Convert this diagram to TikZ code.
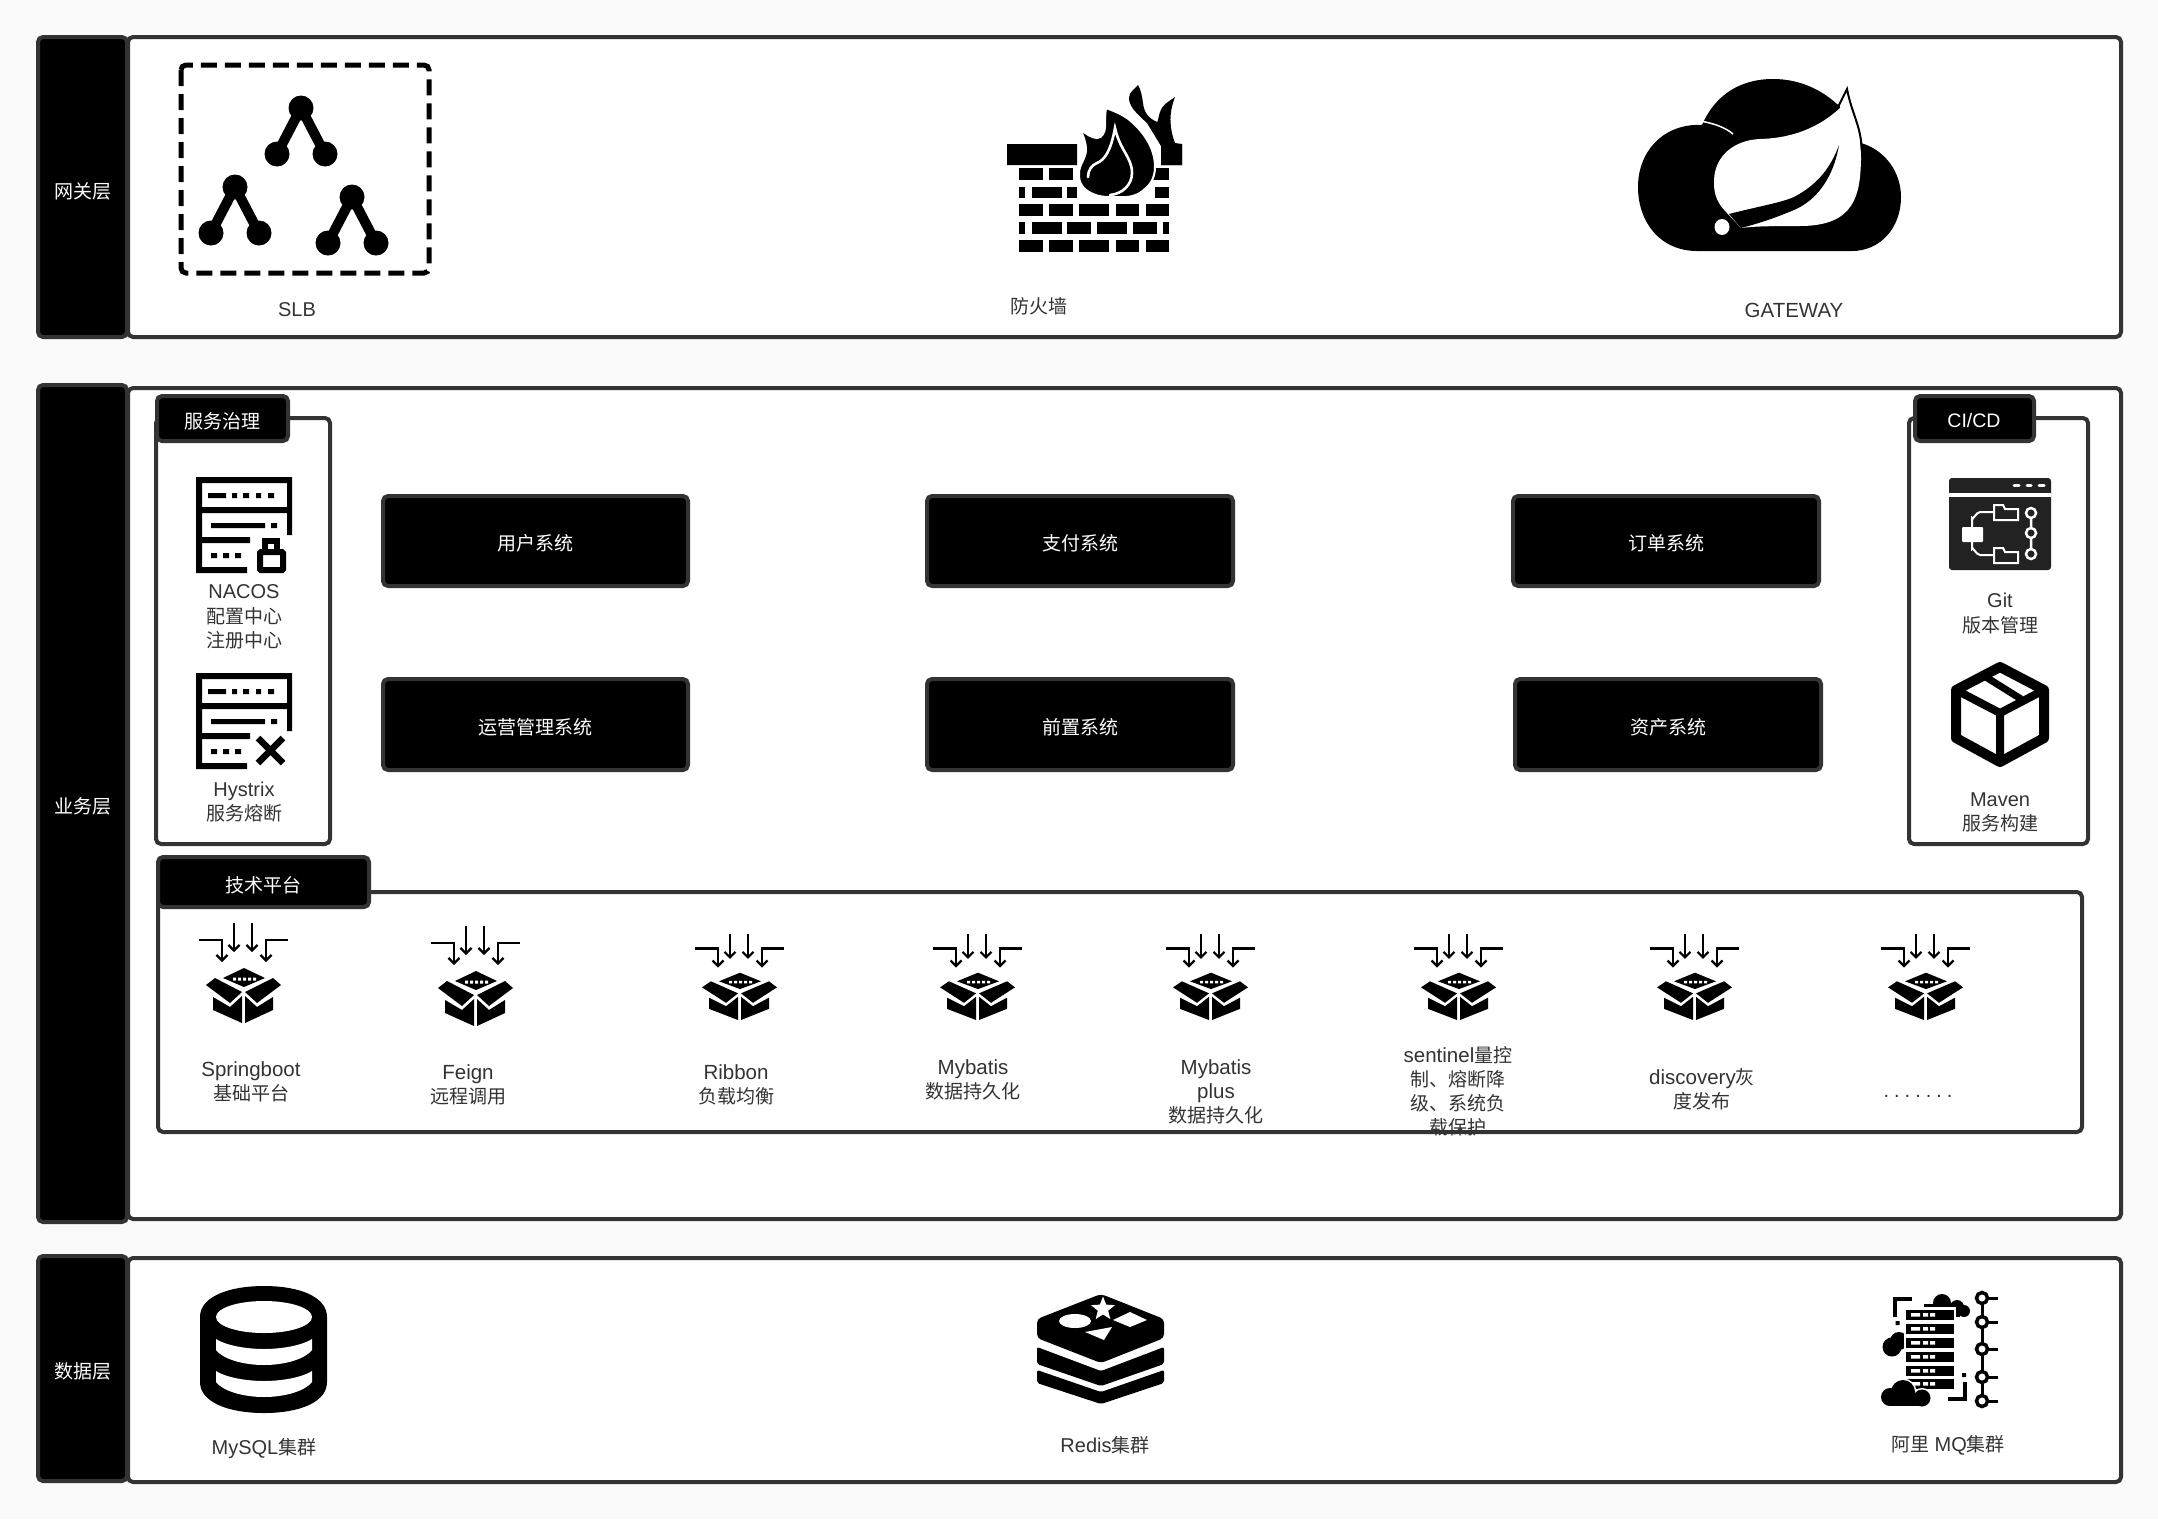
\documentclass[tikz,border=0pt]{standalone}
\usepackage{fontspec}
\setmainfont{Liberation Sans}
\newfontfamily\cjk{Noto Sans CJK SC}
\newcommand{\zh}[1]{{\fontsize{19}{24.5}\selectfont\cjk #1}}
\usetikzlibrary{fit,arrows.meta,shapes.geometric}
\definecolor{edgegray}{HTML}{333333}
\definecolor{labelgray}{HTML}{333333}
\definecolor{pagebg}{HTML}{FAFAFA}
\definecolor{gitdark}{HTML}{222222}
\tikzset{
  panel/.style={draw=edgegray,fill=white,line width=4pt,rounded corners=5pt,inner sep=0pt},
  blackbox/.style={draw=edgegray,fill=black,line width=4pt,rounded corners=5pt,inner sep=0pt},
  whitelbl/.style={text=white,align=center,inner sep=0pt,font=\fontsize{19.5}{24}\selectfont},
  lbl/.style={text=labelgray,align=center,inner sep=0pt,font=\fontsize{20}{24.5}\selectfont},
  techlbl/.style={text=labelgray,align=center,inner sep=0pt,font=\fontsize{20.5}{24}\selectfont},
  inarrow/.style={line width=2.6pt,-{Straight Barb[length=5.5pt,width=11pt,line width=2.2pt]}},
}
\newcommand{\slbtree}[2]{%
  \draw[line width=10pt] (#1-24,#2+46) -- (#1,#2) -- (#1+24,#2+46);
  \fill (#1,#2) circle[radius=12.5] (#1-24,#2+46) circle[radius=12.5] (#1+24,#2+46) circle[radius=12.5];
}
\newcommand{\srvframe}{%
  \fill (196,477) rectangle (292,483) (196,477) rectangle (202,573) (287,477) rectangle (292,535)
        (202,507) rectangle (292,513) (202,537) rectangle (250,543) (196,567) rectangle (247,573)
        (208,493) rectangle (226,498) (232,493) rectangle (237,498) (243,493) rectangle (249,498)
        (256,493) rectangle (261,498) (268,493) rectangle (274,498)
        (211,523) rectangle (265,528) (271,523) rectangle (277,528)
        (211,553) rectangle (217,558) (223,553) rectangle (229,558) (235,553) rectangle (241,558);
}
\newcommand{\pkgicon}[3]{%
  \begin{scope}[shift={(#1,#2)},yscale=#3]
    \draw[inarrow] (-45,17) -- (-22,17) -- (-22,39);
    \draw[inarrow] (44,17) -- (22,17) -- (22,39);
    \draw[inarrow] (-10,0) -- (-10,29);
    \draw[inarrow] (8,0) -- (8,29);
    \fill (0,45) -- (21,55) -- (0,64) -- (-21,55) -- cycle;
    \fill[white] (-11,54.5) rectangle (-8,57.5) (-6,54.5) rectangle (-3,57.5) (-1,54.5) rectangle (2,57.5) (4,54.5) rectangle (7,57.5) (9,54.5) rectangle (12,57.5);
    \fill (-38,62) -- (-29,55) -- (-2,69) -- (-14,80) -- cycle;
    \fill (37,62) -- (29,55) -- (1,69) -- (13,80) -- cycle;
    \fill (-31,74) -- (-31,87) -- (-2,100) -- (-2,73) -- (-14,84) -- cycle;
    \fill (29,74) -- (29,87) -- (1,100) -- (1,73) -- (13,84) -- cycle;
  \end{scope}%
}
\begin{document}
\begin{tikzpicture}[x=1pt,y=-1pt]
\useasboundingbox (0,0) rectangle (2158,1519);
\fill[pagebg] (0,0) rectangle (2158,1519);

% ---- layers
\node[panel,fit={(128,37)(2121,337)}] (gwpanel) {};
\node[blackbox,fit={(38,37)(127,337)}] (gwside) {};
\node[whitelbl] (gwtext) at (83,191) {\zh{网关层}};
\node[panel,fit={(128,388)(2121,1219)}] (bizpanel) {};
\node[blackbox,fit={(38,385)(127,1222)}] (bizside) {};
\node[whitelbl] (biztext) at (83,806) {\zh{业务层}};
\node[panel,fit={(128,1258)(2121,1482)}] (datapanel) {};
\node[blackbox,fit={(38,1256)(127,1481)}] (dataside) {};
\node[whitelbl] (datatext) at (83,1371) {\zh{数据层}};

% ---- gateway layer
\draw[line width=5pt,rounded corners=5pt,dash pattern=on 16pt off 8pt] (181,65) rectangle (429,273);
\slbtree{301}{108}
\slbtree{235}{187}
\slbtree{352}{197}
\node[lbl] (slb) at (297,310) {SLB};

% firewall
\fill (1007,144) rectangle (1077,165) (1161,144) rectangle (1182,165);
\foreach \a/\b in {1019/1043,1049/1073,1150/1169} \fill (\a,168) rectangle (\b,180);
\foreach \a/\b in {1019/1025,1032/1062,1067/1077,1155/1169} \fill (\a,187) rectangle (\b,198);
\foreach \a/\b in {1019/1043,1049/1073,1079/1109,1116/1139,1146/1169} {\fill (\a,204) rectangle (\b,216); \fill (\a,240) rectangle (\b,252);}
\foreach \a/\b in {1019/1025,1032/1062,1067/1091,1097/1127,1133/1157,1163/1169} \fill (\a,222) rectangle (\b,234);
\fill (1138,85) .. controls (1134,90) and (1129,92) .. (1129,98)
  .. controls (1129,106) and (1135,112) .. (1147,123)
  -- (1161,146) -- (1161,165) -- (1182,165) -- (1182,144) -- (1175,143)
  .. controls (1170,130) and (1168,115) .. (1175,97)
  .. controls (1168,102) and (1162,105) .. (1160,112)
  .. controls (1158,118) and (1158,122) .. (1157,122)
  .. controls (1148,118) and (1144,112) .. (1143,103)
  .. controls (1142,96) and (1141,90) .. (1138,85) -- cycle;
\filldraw[draw=white,line width=2pt,fill=black] (1106,108)
  .. controls (1120,113) and (1128,118) .. (1133,123)
  .. controls (1146,135) and (1155,150) .. (1155,167)
  .. controls (1155,180) and (1148,186) .. (1147,187)
  .. controls (1140,194) and (1135,196) .. (1127,197)
  -- (1108,197)
  .. controls (1098,197) and (1088,193) .. (1083,187)
  .. controls (1079,182) and (1079,178) .. (1079,173)
  .. controls (1079,165) and (1086,158) .. (1086,150)
  .. controls (1086,142) and (1083,135) .. (1080,129)
  .. controls (1086,134) and (1092,138) .. (1097,138)
  .. controls (1102,138) and (1105,132) .. (1105,127)
  .. controls (1105,120) and (1105,114) .. (1106,108) -- cycle;
\draw[white,line width=2.6pt,line cap=round] (1088,177)
  .. controls (1088,170) and (1092,165) .. (1097,163)
  .. controls (1105,160) and (1111,150) .. (1115,128)
  .. controls (1118,142) and (1124,150) .. (1128,158)
  .. controls (1131,164) and (1132,168) .. (1132,173)
  .. controls (1132,185) and (1122,194) .. (1110,195);
\node[lbl,yshift=-1.5pt] (fw) at (1039,305) {\zh{防火墙}};

% gateway cloud
\fill (1697,251) .. controls (1660,251) and (1638,222) .. (1638,187)
  .. controls (1638,150) and (1665,123) .. (1702,125)
  .. controls (1715,95) and (1740,79) .. (1773,79)
  .. controls (1800,79) and (1825,90) .. (1845,112)
  -- (1861,143) .. controls (1885,150) and (1901,172) .. (1901,197)
  .. controls (1901,228) and (1880,251) .. (1852,251) -- cycle;
\draw[white,line width=1.5pt] (1700,121) .. controls (1712,123) and (1725,127) .. (1733,134);
\fill[white] (1847,91) .. controls (1852,115) and (1861,125) .. (1861,160)
  .. controls (1860,195) and (1855,226) .. (1800,226)
  .. controls (1780,226) and (1755,226) .. (1741,228)
  -- (1727,213) .. controls (1714,200) and (1714,190) .. (1714,180)
  .. controls (1715,155) and (1735,140) .. (1760,139)
  .. controls (1800,138) and (1825,122) .. (1840,108) -- cycle;
\draw[line width=2pt] (1838,107) -- (1847,89) .. controls (1852,115) and (1861,125) .. (1862,152);
\fill (1839,145) .. controls (1830,170) and (1815,186) .. (1794,197)
  .. controls (1780,203) and (1760,206) .. (1729,214)
  -- (1741,228) .. controls (1760,223) and (1775,218) .. (1794,210)
  .. controls (1815,201) and (1833,180) .. (1839,145) -- cycle;
\fill[white] (1722,227) ellipse[x radius=7.5,y radius=8];
\node[lbl,font=\fontsize{20.5}{24}\selectfont] (gateway) at (1794,310) {GATEWAY};

% ---- service governance
\node[panel,fit={(156,418)(330,844)}] (govbox) {};
\node[blackbox,fit={(157,396)(288,441)}] (govtab) {};
\node[whitelbl] (govtext) at (222,421) {\zh{服务治理}};
\srvframe
\draw[line width=6pt,rounded corners=1pt] (260,552) rectangle (283,570);
\draw[line width=6pt] (265,552) -- (265,541) -- (277,541) -- (277,552);
\node[lbl,yshift=-1pt] (nacos) at (244,616) {NACOS\\\zh{配置中心}\\\zh{注册中心}};
\begin{scope}[shift={(0,196)}]
  \srvframe
  \draw[line width=6.5pt] (258,542) -- (283,567) (283,542) -- (258,567);
\end{scope}
\node[lbl,yshift=-1pt] (hystrix) at (244,801) {Hystrix\\\zh{服务熔断}};

% ---- CI/CD
\node[panel,fit={(1909,418)(2088,844)}] (cicdbox) {};
\node[blackbox,fit={(1915,396)(2034,441)}] (cicdtab) {};
\node[whitelbl] (cicdtext) at (1974,421) {CI/CD};
\fill[gitdark,rounded corners=3pt] (1949,478) rectangle (2051,570);
\fill[white] (1949,493) rectangle (2051,497);
\draw[white,line width=3pt,line cap=round] (2014,485) -- (2019,485) (2027,485) -- (2031,485) (2039,485) -- (2044,485);
\fill[white,rounded corners=1pt] (1962,527) rectangle (1983,542);
\draw[white,line width=2pt] (1972,527) -- (1972,518) to[out=-90,in=180] (1980,512) -- (1994,512);
\draw[white,line width=2pt] (1972,542) -- (1972,549) to[out=90,in=180] (1980,555) -- (1994,555);
\draw[white,line width=2pt] (1994,505) -- (2003,505) -- (2005,509) -- (2018,509) -- (2018,520) -- (1994,520) -- cycle;
\draw[white,line width=2pt] (1994,548) -- (2003,548) -- (2005,552) -- (2018,552) -- (2018,563) -- (1994,563) -- cycle;
\draw[white,line width=2.5pt] (2031,513) circle[radius=5] (2031,533) circle[radius=5] (2031,554) circle[radius=5] (2031,518) -- (2031,528) (2031,538) -- (2031,549);
\node[lbl,yshift=-1.5pt] (git) at (2000,612) {Git\\\zh{版本管理}};
\draw[line width=10pt,line join=round] (2000,667) -- (2044,690) -- (2044,738) -- (2000,762) -- (1956,738) -- (1956,690) -- cycle;
\draw[line width=8pt,line join=round] (1956,690) -- (2000,713) -- (2044,690) (2000,713) -- (2000,762);
\draw[line width=7pt] (1981,674) -- (2021,699);
\node[lbl,yshift=-1.5pt] (maven) at (2000,811) {Maven\\\zh{服务构建}};

% ---- system boxes
\node[blackbox,fit={(383,496)(688,586)}] (sys1) {};
\node[blackbox,fit={(927,496)(1233,586)}] (sys2) {};
\node[blackbox,fit={(1513,496)(1819,586)}] (sys3) {};
\node[blackbox,fit={(383,679)(688,770)}] (sys4) {};
\node[blackbox,fit={(927,679)(1233,770)}] (sys5) {};
\node[blackbox,fit={(1515,679)(1821,770)}] (sys6) {};
\node[whitelbl] (sys1t) at ([yshift=-2.5pt]sys1.center) {\zh{用户系统}};
\node[whitelbl] (sys2t) at ([yshift=-2.5pt]sys2.center) {\zh{支付系统}};
\node[whitelbl] (sys3t) at ([yshift=-2.5pt]sys3.center) {\zh{订单系统}};
\node[whitelbl] (sys4t) at ([yshift=-2.5pt]sys4.center) {\zh{运营管理系统}};
\node[whitelbl] (sys5t) at ([yshift=-2.5pt]sys5.center) {\zh{前置系统}};
\node[whitelbl] (sys6t) at ([yshift=-2.5pt]sys6.center) {\zh{资产系统}};

% ---- technology platform
\node[panel,fit={(158,892)(2082,1132)}] (techbox) {};
\node[blackbox,fit={(158,857)(369,907)}] (techtab) {};
\node[whitelbl] (techtext) at (263,885) {\zh{技术平台}};
\pkgicon{244}{923}{1}
\pkgicon{476}{926}{1}
\pkgicon{740}{934}{.86}
\pkgicon{978}{934}{.86}
\pkgicon{1211}{934}{.86}
\pkgicon{1459}{934}{.86}
\pkgicon{1695}{934}{.86}
\pkgicon{1926}{934}{.86}
\node[techlbl,yshift=-1.5pt] (t1) at (251,1080) {Springboot\\\zh{基础平台}};
\node[techlbl,yshift=-1.5pt] (t2) at (468,1083) {Feign\\\zh{远程调用}};
\node[techlbl,yshift=-1.5pt] (t3) at (736,1083) {Ribbon\\\zh{负载均衡}};
\node[techlbl,yshift=-1.5pt] (t4) at (973,1078) {Mybatis\\\zh{数据持久化}};
\node[techlbl,yshift=-1.5pt] (t5) at (1216,1090) {Mybatis\\plus\\\zh{数据持久化}};
\node[techlbl] (t6) at (1458,1091) {sentinel\zh{量控}\\\zh{制、熔断降}\\\zh{级、系统负}\\\zh{载保护}};
\node[techlbl] (t7) at (1702,1089) {discovery\zh{灰}\\\zh{度发布}};
\node[lbl,anchor=base] (t8) at (1918,1097) {\addfontfeature{LetterSpace=25}.......};

% ---- data layer
\fill (200,1317) .. controls (200,1297) and (228,1286) .. (264,1286)
  .. controls (300,1286) and (327,1297) .. (327,1317) -- (327,1382)
  .. controls (327,1402) and (300,1413) .. (264,1413)
  .. controls (228,1413) and (200,1402) .. (200,1382) -- cycle;
\fill[white] (264,1317) ellipse[x radius=48,y radius=16];
\fill[white] (216,1339) .. controls (225,1345) and (245,1349) .. (264,1349)
  .. controls (283,1349) and (303,1345) .. (312,1339) -- (312,1350)
  .. controls (305,1359) and (285,1365) .. (264,1365)
  .. controls (243,1365) and (223,1359) .. (216,1350) -- cycle;
\fill[white] (216,1371) .. controls (225,1377) and (245,1381) .. (264,1381)
  .. controls (283,1381) and (303,1377) .. (312,1371) -- (312,1382)
  .. controls (305,1391) and (285,1397) .. (264,1397)
  .. controls (243,1397) and (223,1391) .. (216,1382) -- cycle;
\node[lbl,yshift=-1.5pt] (mysql) at (264,1447) {MySQL\zh{集群}};

\fill[rounded corners=4pt] (1101,1294) -- (1164,1319) -- (1164,1338) -- (1101,1363) -- (1037,1338) -- (1037,1319) -- cycle;
\fill[rounded corners=2pt] (1037,1347) -- (1101,1371) -- (1164,1347) -- (1164,1364) -- (1101,1386) -- (1037,1364) -- cycle;
\fill[rounded corners=2pt] (1037,1370) -- (1101,1392) -- (1164,1370) -- (1164,1383) -- (1101,1404) -- (1037,1383) -- cycle;
\node[star,star points=5,star point ratio=2.3,fill=white,minimum size=25pt,inner sep=0pt] (redisstar) at (1103,1309) {};
\fill[white] (1075,1321) ellipse[x radius=16,y radius=7];
\fill[white] (1113,1320) -- (1130,1312) -- (1147,1320) -- (1130,1327) -- cycle;
\fill[white] (1085,1332) -- (1112,1327) -- (1104,1340) -- cycle;
\node[lbl,yshift=-1.5pt] (redis) at (1105,1444) {Redis\zh{集群}};

% MQ icon
\fill (1924,1304) rectangle (1960,1317);
\fill (1942,1303) circle[radius=9] (1957,1307) circle[radius=7] (1964,1311) circle[radius=6];
\fill (1892,1347) circle[radius=9.5] (1899,1341) circle[radius=9];
\fill[white] (1904,1307) rectangle (1956,1391);
\foreach \y in {1310,1324,1338,1352,1366,1379} {
  \fill (1906,\y) rectangle (1954,\y+9.5);
  \fill[white] (1911,\y+3) rectangle (1920,\y+6.5) (1923,\y+3) rectangle (1928,\y+6.5) (1930,\y+3) rectangle (1935,\y+6.5);
}
\draw[white,line width=5pt] (1903,1392) circle[radius=11] (1890,1397) circle[radius=8] (1922,1398) circle[radius=7.5];
\fill (1903,1392) circle[radius=12] (1890,1397) circle[radius=9] (1922,1398) circle[radius=8.5];
\fill (1890,1396) rectangle (1922,1406);
\draw[line width=3.5pt] (1912,1299) -- (1895,1299) -- (1895,1317) (1948,1399) -- (1965,1399) -- (1965,1382);
\fill (1895.5,1321) rectangle (1899.5,1325) (1962,1373) rectangle (1966,1377);
\draw[line width=3pt] (1982,1298) -- (1982,1401);
\foreach \y in {1298,1322,1349,1377,1401} {
  \draw[line width=3pt] (1982,\y) -- (1998,\y);
  \filldraw[fill=white,line width=3.5pt] (1982,\y) circle[radius=5.5];
}
\node[lbl,yshift=-1.5pt] (mq) at (1948,1444) {\zh{阿里} MQ\zh{集群}};
\end{tikzpicture}
\end{document}
